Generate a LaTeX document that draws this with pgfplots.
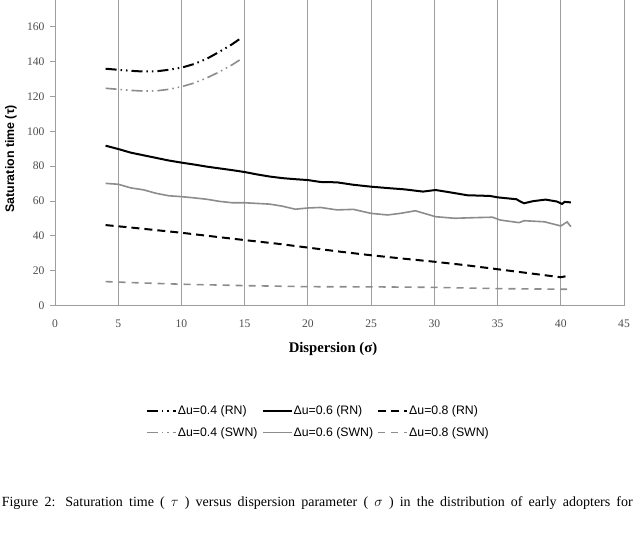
\documentclass[border=0pt]{standalone}
\usepackage{fontspec}
\setmainfont{Liberation Serif}
\newfontfamily\legfont{Liberation Sans}
\usepackage{pgfplots}
\pgfplotsset{compat=1.18}
\definecolor{sgray}{gray}{0.55}
\definecolor{ggray}{gray}{0.62}
\begin{document}
\begin{tikzpicture}[x=1pt,y=1pt]
\useasboundingbox (0,0) rectangle (635,537);
\begin{axis}[
  at={(55pt,231.3pt)}, anchor=south west,
  scale only axis, width=569pt, height=305.7pt,
  xmin=0, xmax=45, ymin=0, ymax=175.2,
  xtick={0,5,...,45}, ytick={0,20,...,160},
  axis x line=bottom, axis y line=left,
  axis line style={-, draw=ggray, line width=0.8pt},
  xmajorgrids, grid style={ggray, line width=0.8pt},
  xtick style={draw=none}, ytick style={draw=ggray, line width=0.8pt},
  tick align=outside, major tick length=4.5pt,
  /pgf/number format/assume math mode=true,
  ticklabel style={font=\fontsize{11.6}{13}\selectfont, text=black!70},
  xticklabel style={yshift=-6pt},
  yticklabel style={xshift=-2.5pt},
  xlabel={Dispersion (σ)}, ylabel={Saturation time (τ)},
  xlabel style={font=\bfseries\fontsize{14.7}{16}\selectfont, at={(axis description cs:0.4886,-0.1417)}, anchor=center},
  ylabel style={font=\legfont\bfseries\fontsize{12.4}{14}\selectfont, at={(axis description cs:-0.0773,0.48)}, anchor=center},
  legend columns=3,
  legend style={at={(axis description cs:0.462,-0.379)}, anchor=center, draw=none,
    font=\legfont\fontsize{12.3}{14}\selectfont, row sep=9.5pt,
    /tikz/every even column/.append style={column sep=3pt},
    nodes={inner sep=1pt}},
  legend cell align=left,
  legend image code/.code={\draw[#1] (0pt,0pt) -- (29pt,0pt);},
]
% RN 0.4
\addplot[black, line width=2pt, dash pattern=on 11pt off 4pt on 1.5pt off 4pt on 1.5pt off 4pt] coordinates {
(4,135.8) (5,135.2) (6,134.6) (7,134.2) (8,134.3) (9,135.2) (10,136.4) (11,138.5) (12,141.5) (13,145.5) (14,149.8) (14.6,152.8)};
\addlegendentry{Δu=0.4 (RN)}
% RN 0.6
\addplot[black, line width=2pt] coordinates {
(4,91.7) (5,89.8) (6,87.7) (7,86.2) (8,84.7) (9,83.2) (10,82.0) (11,80.9) (12,79.7) (13,78.7) (14,77.7) (15,76.6) (16,75.2) (17,74.0) (18,73.1) (19,72.5) (20,72.0) (21,70.9) (22.3,70.7) (23.6,69.3) (25,68.2) (26.5,67.3) (27.6,66.7) (29.1,65.4) (30.1,66.3) (31.3,64.9) (32.6,63.3) (34.4,62.9) (35,62.1) (36.5,61.0) (36.8,59.7) (37.1,58.7) (37.8,59.9) (38.8,60.8) (39.7,59.7) (40.1,58.3) (40.3,59.5) (40.8,59.2)};
\addlegendentry{Δu=0.6 (RN)}
% RN 0.8
\addplot[black, line width=2pt, dash pattern=on 8pt off 5pt] coordinates {
(4,46.2) (6,44.8) (8,43.3) (10,41.8) (12,40.1) (15,37.6) (17.5,35.6) (20,33.3) (22.5,31.0) (25,28.9) (27.5,27.0) (30,25.2) (32.5,23.2) (35,20.9) (37.5,18.6) (40,16.3) (40.6,17.2)};
\addlegendentry{Δu=0.8 (RN)}
% SWN 0.4
\addplot[sgray, line width=1.6pt, dash pattern=on 11pt off 4pt on 1.5pt off 4pt on 1.5pt off 4pt] coordinates {
(4,124.6) (5,124.0) (6,123.4) (7,123.0) (8,123.1) (9,124.0) (10,125.5) (11,127.6) (12,130.5) (13,134.0) (14,138.0) (14.6,140.8)};
\addlegendentry{Δu=0.4 (SWN)}
% SWN 0.6
\addplot[sgray, line width=1.6pt] coordinates {
(4,70.1) (5,69.6) (6,67.5) (7,66.4) (8,64.4) (9,63.0) (10,62.5) (11,61.8) (12,61.0) (13,59.8) (14,59.0) (15,59.0) (16,58.6) (17,58.2) (18,57.0) (19,55.3) (20,56.0) (21,56.3) (22.3,54.9) (23.6,55.2) (25,52.9) (26.3,52.0) (27.3,52.9) (28.5,54.4) (30.1,51.0) (31.6,50.1) (33.4,50.5) (34.6,50.7) (35.2,49.1) (36.7,47.6) (37.1,48.7) (38.7,48.1) (40,45.7) (40.5,48.0) (40.8,45.3)};
\addlegendentry{Δu=0.6 (SWN)}
% SWN 0.8
\addplot[sgray, line width=1.6pt, dash pattern=on 7pt off 6pt] coordinates {
(4,13.8) (7,13.0) (10,12.3) (15,11.5) (20,10.9) (25,10.8) (30,10.5) (35,9.8) (40.5,9.4)};
\addlegendentry{Δu=0.8 (SWN)}
\end{axis}
\node[anchor=base east, inner sep=0pt] at (633,30) {\makebox[631pt][s]{\fontsize{14}{16}\selectfont Figure 2: Saturation time ( $\tau$ ) versus dispersion parameter ( $\sigma$ ) in the distribution of early adopters for}};
\end{tikzpicture}
\end{document}
